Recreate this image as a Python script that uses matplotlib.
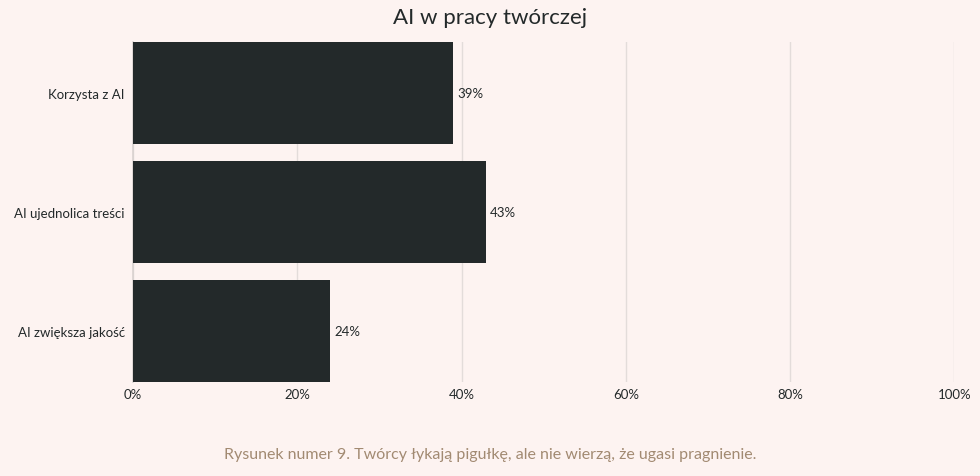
import matplotlib
matplotlib.use("Agg")
import matplotlib.pyplot as plt
from matplotlib.ticker import FuncFormatter

categories = ["Korzysta z AI", "AI ujednolica treści", "AI zwiększa jakość"]
values = [39, 43, 24]
xticks = [0, 20, 40, 60, 80, 100]
title = "AI w pracy twórczej"
caption = "Rysunek numer 9. Twórcy łykają pigułkę, ale nie wierzą, że ugasi pragnienie."

bg = "#fdf3f1"
bar_color = "#23292a"
text_color = "#23292a"
grid_color = "#e3dcda"
caption_color = "#a28a72"

plt.rcParams['font.family'] = ['Lato', 'DejaVu Sans']

fig = plt.figure(figsize=(9.8, 4.77), dpi=100, facecolor=bg)
ax = fig.add_axes([133/980, 1 - 383/477, (954.3 - 133)/980, (383 - 43)/477])
ax.set_facecolor(bg)

h = 0.857
ypos = list(range(len(categories)))
ax.barh(ypos, values, height=h, color=bar_color, zorder=3)
for y, v in zip(ypos, values):
    ax.text(v + 0.5, y, f"{v}%", va="center", ha="left", fontsize=9.5,
            color=text_color, zorder=4)

ax.set_xlim(0, 100)
ax.set_ylim(len(categories) - 1 + h / 2, -h / 2)
ax.set_yticks(ypos)
ax.set_yticklabels(categories, fontsize=9.5, color=text_color)
ax.set_xticks(xticks)
ax.xaxis.set_major_formatter(FuncFormatter(lambda x, p: f"{int(x)}%"))
ax.tick_params(axis="x", labelsize=9.5, colors=text_color, length=0, pad=4)
ax.tick_params(axis="y", length=0, pad=6)
ax.grid(axis="x", color=grid_color, linewidth=1, zorder=0)
for s in ["top", "right", "bottom"]:
    ax.spines[s].set_visible(False)
ax.spines["left"].set_color("#d9d2d0")
ax.spines["left"].set_linewidth(1.2)

fig.text(0.5, 1 - 18/477, title, ha="center", va="center", fontsize=16,
         color=text_color)
fig.text(0.5, 1 - 455/477, caption, ha="center", va="center", fontsize=11.5,
         color=caption_color)

fig.savefig("out.png", dpi=100, facecolor=bg)
